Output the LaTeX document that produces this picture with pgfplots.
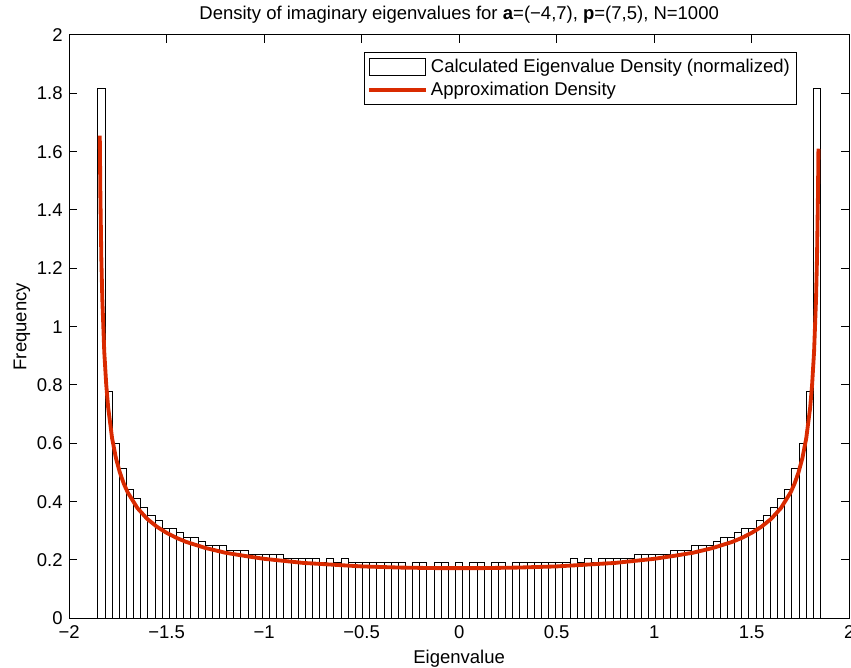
\documentclass[border=0pt]{standalone}
\usepackage{fontspec}
\setmainfont{Liberation Sans}
\usepackage{pgfplots}
\pgfplotsset{compat=1.18}
\usetikzlibrary{calc}
\definecolor{mred}{RGB}{217,42,0}
\pgfplotstableread{
x y
-1.8529 1.817
-1.8162 0.776
-1.7795 0.601
-1.7428 0.513
-1.7061 0.440
-1.6694 0.410
-1.6327 0.381
-1.5961 0.352
-1.5594 0.337
-1.5227 0.308
-1.4860 0.308
-1.4493 0.293
-1.4126 0.278
-1.3759 0.278
-1.3392 0.264
-1.3025 0.249
-1.2658 0.249
-1.2292 0.249
-1.1925 0.234
-1.1558 0.234
-1.1191 0.234
-1.0824 0.220
-1.0457 0.220
-1.0090 0.220
-0.9723 0.220
-0.9356 0.220
-0.8989 0.205
-0.8623 0.205
-0.8256 0.205
-0.7889 0.205
-0.7522 0.205
-0.7155 0.190
-0.6788 0.205
-0.6421 0.190
-0.6054 0.205
-0.5687 0.190
-0.5320 0.190
-0.4954 0.190
-0.4587 0.190
-0.4220 0.190
-0.3853 0.190
-0.3486 0.190
-0.3119 0.190
-0.2752 0.176
-0.2385 0.190
-0.2018 0.190
-0.1651 0.176
-0.1284 0.190
-0.0918 0.190
-0.0551 0.176
-0.0184 0.190
0.0184 0.176
0.0551 0.190
0.0918 0.190
0.1284 0.176
0.1651 0.190
0.2018 0.190
0.2385 0.176
0.2752 0.190
0.3119 0.190
0.3486 0.190
0.3853 0.190
0.4220 0.190
0.4587 0.190
0.4954 0.190
0.5320 0.190
0.5687 0.205
0.6054 0.190
0.6421 0.205
0.6788 0.190
0.7155 0.205
0.7522 0.205
0.7889 0.205
0.8256 0.205
0.8623 0.205
0.8989 0.220
0.9356 0.220
0.9723 0.220
1.0090 0.220
1.0457 0.220
1.0824 0.234
1.1191 0.234
1.1558 0.234
1.1925 0.249
1.2292 0.249
1.2658 0.249
1.3025 0.264
1.3392 0.278
1.3759 0.278
1.4126 0.293
1.4493 0.308
1.4860 0.308
1.5227 0.337
1.5594 0.352
1.5961 0.381
1.6327 0.410
1.6694 0.440
1.7061 0.513
1.7428 0.601
1.7795 0.776
1.8162 1.817
1.8529 1.817
}\histdata
\begin{document}
\fontsize{11.1pt}{13pt}\selectfont
\begin{tikzpicture}
\begin{axis}[name=ax, scale only axis, width=468pt, height=350pt,
  xmin=-2, xmax=2, ymin=0, ymax=2,
  xtick={-2,-1.5,-1,-0.5,0,0.5,1,1.5,2},
  xticklabels={−2,−1.5,−1,−0.5,0,0.5,1,1.5,2},
  ytick={0,0.2,0.4,0.6,0.8,1,1.2,1.4,1.6,1.8,2},
  yticklabels={0,0.2,0.4,0.6,0.8,1,1.2,1.4,1.6,1.8,2},
  tick align=inside, major tick length=4.8pt,
  tick style={black, line width=0.6pt},
  axis line style={black, line width=0.6pt},
  every tick label/.append style={font=\fontsize{11.1pt}{13pt}\selectfont},
  xticklabel style={anchor=base, yshift=-12pt},
  xlabel={Eigenvalue}, ylabel={Frequency},
  label style={font=\fontsize{11.1pt}{13pt}\selectfont},
  xlabel style={at={(axis description cs:0.5,-0.0771)}, anchor=base},
  ylabel style={at={(axis description cs:-0.0547,0.5)}, anchor=base},
  title={Density of imaginary eigenvalues for \textbf{a}=(−4,7), \textbf{p}=(7,5), N=1000},
  title style={at={(axis description cs:0.5,1.0086)}, anchor=base, font=\fontsize{11.1pt}{13pt}\selectfont},
  legend style={at={(axis description cs:0.9331,0.9709)}, anchor=north east,
    draw=black, fill=white, line width=0.6pt,
    font=\fontsize{11.1pt}{13pt}\selectfont,
    inner xsep=2pt, inner ysep=2pt, row sep=0pt},
  legend cell align=left,
]
\addplot[ybar interval, draw=black, fill=white, line width=0.6pt,
  legend image code/.code={\draw[black,fill=white,line width=0.6pt] (0pt,-5pt) rectangle (34pt,5pt);}]
  table[x=x,y=y] {\histdata};
\addlegendentry{Calculated Eigenvalue Density (normalized)}
\addplot[mred, line width=2.3pt, line join=round,
  legend image code/.code={\draw[mred,line width=2pt] (0pt,0pt) -- (34pt,0pt);}]
  coordinates {
(-1.843,1.655) (-1.840,1.453) (-1.835,1.235) (-1.830,1.094) (-1.820,0.914)
(-1.810,0.802) (-1.800,0.723) (-1.780,0.618) (-1.760,0.549) (-1.740,0.500)
(-1.720,0.462) (-1.700,0.432) (-1.650,0.378) (-1.600,0.341) (-1.550,0.314)
(-1.500,0.293) (-1.450,0.276) (-1.400,0.262) (-1.300,0.241) (-1.200,0.225)
(-1.100,0.214) (-1.000,0.204) (-0.900,0.197) (-0.800,0.190) (-0.700,0.186)
(-0.600,0.182) (-0.500,0.178) (-0.400,0.176) (-0.300,0.174) (-0.200,0.173)
(-0.100,0.172) (0.000,0.172) (0.100,0.172) (0.200,0.173) (0.300,0.174)
(0.400,0.176) (0.500,0.178) (0.600,0.182) (0.700,0.186) (0.800,0.190)
(0.900,0.197) (1.000,0.204) (1.100,0.214) (1.200,0.225) (1.300,0.241)
(1.400,0.262) (1.450,0.276) (1.500,0.293) (1.550,0.314) (1.600,0.341)
(1.650,0.378) (1.700,0.432) (1.720,0.462) (1.740,0.500) (1.760,0.549)
(1.780,0.618) (1.800,0.723) (1.810,0.802) (1.820,0.914) (1.830,1.094)
(1.835,1.235) (1.840,1.453) (1.8424,1.610)
  };
\addlegendentry{Approximation Density}
\end{axis}
\pgfresetboundingbox
\path[use as bounding box] ($(ax.south west)+(-41.5pt,-29.8pt)$) rectangle ($(ax.north east)+(1.1pt,21pt)$);
\end{tikzpicture}
\end{document}
